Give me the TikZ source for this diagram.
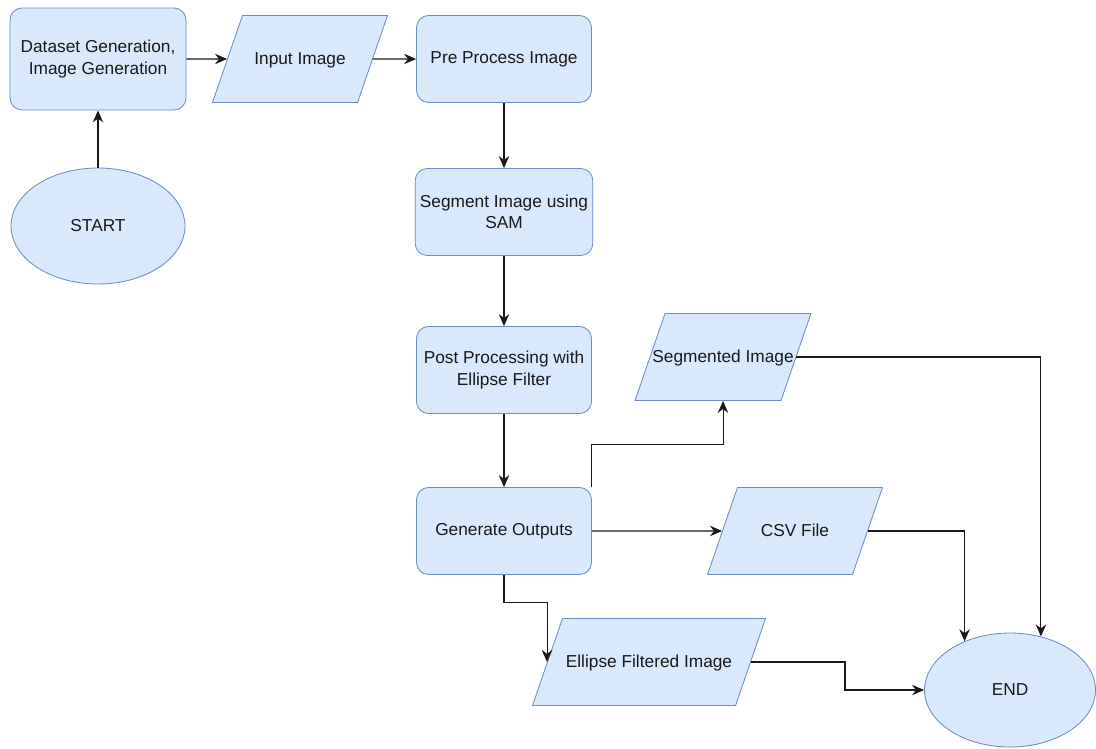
\documentclass[tikz,border=0pt]{standalone}
\usepackage{fontspec}
\setmainfont{Liberation Sans}
\usetikzlibrary{arrows.meta,positioning,shapes.geometric}

\definecolor{boxfill}{HTML}{DAE8FC}
\definecolor{boxdraw}{HTML}{6C8EBF}

\begin{document}
\begin{tikzpicture}
  [>={Stealth[length=3mm,width=2.6mm]},on grid,
   every node/.style={font=\fontsize{12.3}{15}\selectfont,align=center,text=black!90},
   process/.style={rectangle,rounded corners=3mm,draw=boxdraw,fill=boxfill,line width=0.6pt,
                   minimum width=4.375cm,minimum height=2.175cm},
   io/.style={trapezium,trapezium left angle=71,trapezium right angle=109,trapezium stretches body=true,
              text height=10pt,text depth=2pt,inner ysep=0.8766cm,inner xsep=-9pt,
              draw=boxdraw,fill=boxfill,line width=0.6pt,minimum width=4.375cm},
   terminal/.style={ellipse,draw=boxdraw,fill=boxfill,line width=0.6pt,
                    minimum width=4.35cm,minimum height=2.9cm},
   flow/.style={->,line width=0.75pt,black!90}]

  \useasboundingbox (0,0) rectangle (27.4,-18.7);

  % top row
  \node [process,minimum width=4.4cm,minimum height=2.55cm] (dataset) at (2.45,-1.475)
                                       {Dataset Generation,\\Image Generation};
  \node [io]       (input)   [right=5.05cm of dataset]  {Input Image};
  \node [process]  (pre)     [right=5.1cm of input]     {Pre Process Image};
  \node [terminal] (start)   [below=4.175cm of dataset] {START};

  % main column
  \node [process]  (seg)     [below=3.825cm of pre]     {Segment Image using\\SAM};
  \node [process]  (post)    [below=3.95cm of seg]      {Post Processing with\\Ellipse Filter};
  \node [process]  (gen)     [below=4.025cm of post]    {Generate Outputs};

  % outputs
  \node [io]       (segimg)  [above right=4.35cm and 5.475cm of gen]  {Segmented Image};
  \node [io]       (csv)     [right=7.275cm of gen]                   {CSV File};
  \node [io,minimum width=5.825cm]
                   (ellimg)  [below right=3.275cm and 3.625cm of gen] {Ellipse Filtered Image};
  \node [terminal,minimum width=4.275cm,minimum height=2.85cm]
                   (endn)    [below right=3.975cm and 5.375cm of csv] {END};

  \draw [flow] (start) -- (dataset);
  \draw [flow] (dataset) -- (input);
  \draw [flow] (input) -- (pre);
  \draw [flow] (pre) -- (seg);
  \draw [flow] (seg) -- (post);
  \draw [flow] (post) -- (gen);
  \draw [flow] (gen.north east) -- ++(0,1.075) -| (segimg.south);
  \draw [flow] (gen) -- (csv);
  \draw [flow] (gen.south) -- ++(0,-0.7) -| (ellimg.west);
  \draw [flow] (segimg.east) -| (endn.60);
  \draw [flow] (csv.east) -| (endn.133);
  \draw [flow] (ellimg.east) -- ++(2.35,0) |- (endn.west);

\end{tikzpicture}
\end{document}
